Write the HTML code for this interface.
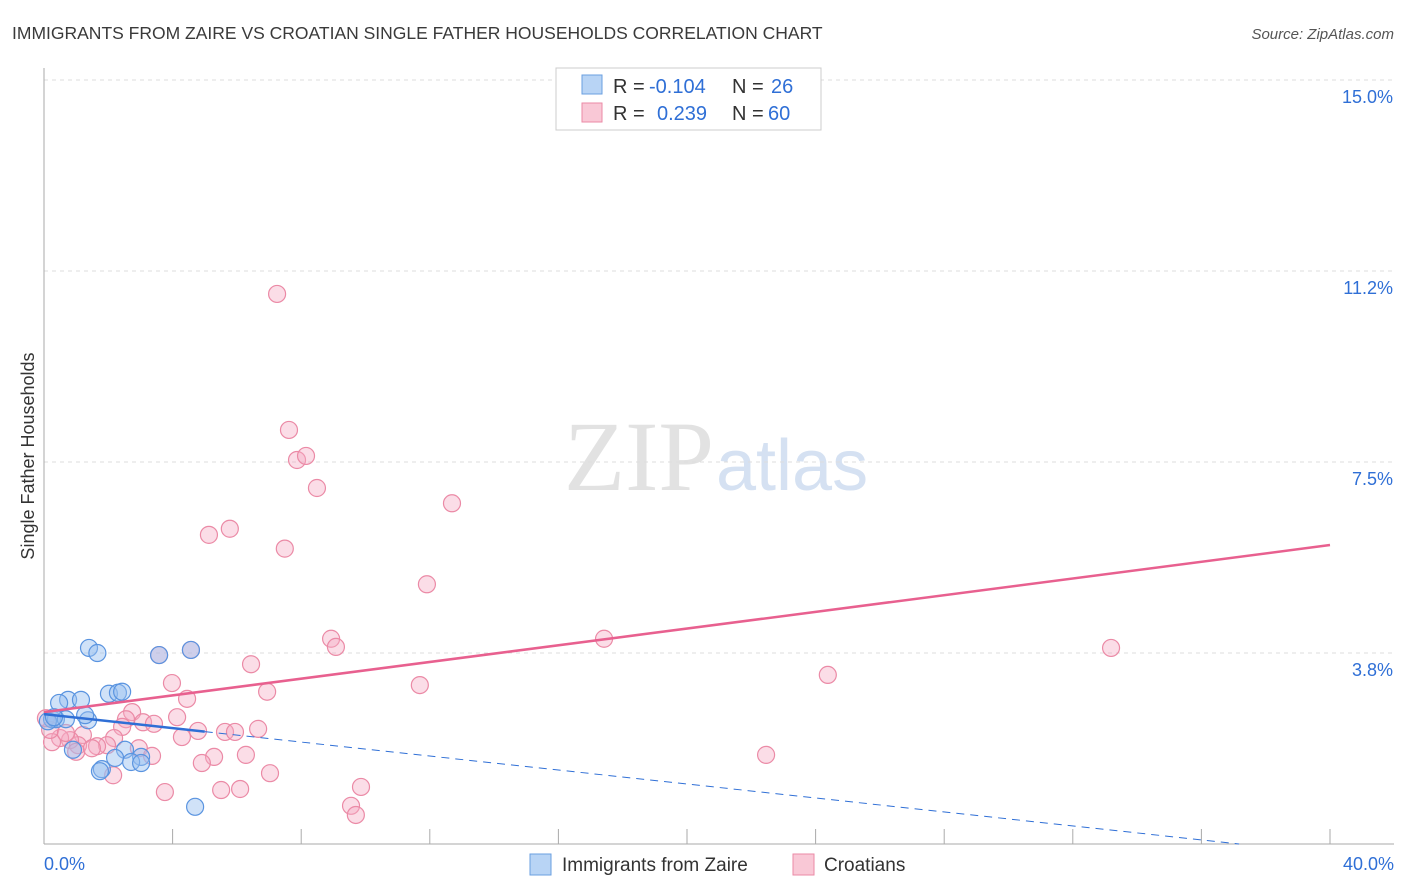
<!DOCTYPE html>
<html><head><meta charset="utf-8"><style>
body{margin:0;background:#fff;font-family:"Liberation Sans",sans-serif;}
svg{display:block}
</style></head><body>
<svg id="chart" width="1406" height="892" viewBox="0 0 1406 892">
<text x="12" y="39" font-size="17.5" fill="#3a3a3a">IMMIGRANTS FROM ZAIRE VS CROATIAN SINGLE FATHER HOUSEHOLDS CORRELATION CHART</text>
<text x="1394" y="39" font-size="15" fill="#555" font-style="italic" text-anchor="end">Source: ZipAtlas.com</text>
<text x="714" y="490" font-size="100" fill="#e2e2e2" font-family="Liberation Serif,serif" text-anchor="end">ZIP</text>
<text x="716" y="490" font-size="72" fill="#d5e1f2">atlas</text>
<text transform="translate(34,456) rotate(-90)" font-size="18" fill="#333" text-anchor="middle">Single Father Households</text>
<g id="grid"></g><g id="axes"></g><g id="marks"></g>
<g>
<rect x="556" y="68" width="265" height="62" fill="#fff" stroke="#ccc"/>
<rect x="582" y="75" width="20" height="19" fill="#b8d4f5" stroke="#6a9fe0"/>
<rect x="582" y="103" width="20" height="19" fill="#f9c8d6" stroke="#eb8aa6"/>
<text y="93" font-size="20" fill="#333"><tspan x="613">R =</tspan><tspan x="649" fill="#2f6fd6">-0.104</tspan><tspan x="732">N =</tspan><tspan x="771" fill="#2f6fd6">26</tspan></text>
<text y="120" font-size="20" fill="#333"><tspan x="613">R =</tspan><tspan x="657" fill="#2f6fd6">0.239</tspan><tspan x="732">N =</tspan><tspan x="768" fill="#2f6fd6">60</tspan></text>
</g>
<g>
<rect x="530" y="854" width="21" height="21" fill="#b8d4f5" stroke="#6a9fe0"/>
<text x="562" y="871" font-size="19" fill="#333">Immigrants from Zaire</text>
<rect x="793" y="854" width="21" height="21" fill="#f9c8d6" stroke="#eb8aa6"/>
<text x="824" y="871" font-size="19" fill="#333">Croatians</text>
</g>
</svg>
<script>
const yTicks=[3.75,7.5,11.25,15];
const yTickLabels=["3.8%","7.5%","11.2%","15.0%"];
const xTickLabels=["0.0%","40.0%"];
const blueX=[1.4,1.66,3.58,4.57,2.02,2.3,2.43,0.75,1.15,0.47,0.25,0.37,0.68,1.37,1.28,2.52,2.21,3.02,2.71,1.8,1.74,3.02,4.7,0.9,0.12,0.31];
const blueY=[3.85,3.75,3.71,3.81,2.95,2.97,2.99,2.83,2.83,2.77,2.45,2.45,2.45,2.43,2.53,1.85,1.69,1.71,1.61,1.47,1.43,1.59,0.73,1.85,2.41,2.49];
const pinkX=[7.25,7.62,7.87,8.15,8.49,12.69,5.13,5.78,7.49,11.91,8.93,9.08,17.42,33.19,4.57,6.44,24.38,3.98,4.45,11.69,6.94,4.14,2.74,3.08,3.42,2.55,2.43,4.79,5.63,5.94,6.66,4.29,2.18,1.21,1.06,0.81,0.5,0.25,0.19,0.06,2.95,3.36,6.28,5.29,4.91,1.96,1.65,2.15,7.03,22.46,3.76,5.51,6.1,9.86,9.55,9.7,1.0,1.49,3.58,0.68];
const pinkY=[10.8,8.13,7.54,7.62,6.99,6.69,6.07,6.19,5.8,5.1,4.03,3.87,4.03,3.85,3.81,3.53,3.32,3.16,2.85,3.12,2.99,2.49,2.59,2.39,2.36,2.45,2.3,2.22,2.2,2.2,2.26,2.1,2.08,2.14,1.94,2.04,2.08,2.0,2.24,2.47,1.88,1.73,1.75,1.71,1.59,1.94,1.92,1.35,1.39,1.75,1.02,1.06,1.08,1.12,0.75,0.57,1.81,1.88,3.71,2.18];
const pinkFit=[2.59,5.87];
const blueFit=[2.55,-0.0686];
const NS="http://www.w3.org/2000/svg";
const X=v=>44+v*32.15, Y=v=>844-v*50.93;
function mk(t,a,p){const e=document.createElementNS(NS,t);for(const k in a)e.setAttribute(k,a[k]);p.appendChild(e);return e;}
const grid=document.getElementById('grid'),axes=document.getElementById('axes'),marks=document.getElementById('marks');
yTicks.forEach((t,i)=>{
 const l=mk('line',{x1:44,x2:1394,y1:Y(t),y2:Y(t),stroke:'#ddd','stroke-dasharray':'4,4'},grid);
 
 
 const tx=mk('text',{x:1393,y:Y(t)+23,'font-size':18,fill:'#2f6fd6','text-anchor':'end'},axes);
 tx.textContent=yTickLabels[i];
 
 
});
const ax=mk('line',{x1:44,x2:1394,y1:844,y2:844,stroke:'#aaa'},axes);


const ay=mk('line',{x1:44,x2:44,y1:68,y2:844,stroke:'#aaa'},axes);


for(let v=4;v<=40;v+=4){const t=mk('line',{x1:X(v),x2:X(v),y1:829,y2:844,stroke:'#aaa'},axes);
 
 }
[[0,44,'start'],[40,1394,'end']].forEach((d,i)=>{const t=mk('text',{x:d[1],y:870,'font-size':18,fill:'#2f6fd6','text-anchor':d[2]},axes);t.textContent=xTickLabels[i];
 
 });
pinkX.forEach((x,i)=>{const c=mk('circle',{cx:X(x),cy:Y(pinkY[i]),r:8.5,fill:'rgba(246,170,195,0.4)',stroke:'#eb8aa6','stroke-width':1.2},marks);
 
 });
blueX.forEach((x,i)=>{const c=mk('circle',{cx:X(x),cy:Y(blueY[i]),r:8.5,fill:'rgba(150,190,240,0.45)',stroke:'#5a94e0','stroke-width':1.2},marks);
 
 });
const pl=mk('line',{x1:X(0),y1:Y(pinkFit[0]),x2:X(40),y2:Y(pinkFit[1]),stroke:'#e8608f','stroke-width':2.5},marks);


const bs=mk('line',{x1:X(0),y1:Y(blueFit[0]),x2:X(5),y2:Y(blueFit[0]+blueFit[1]*5),stroke:'#2f6fd6','stroke-width':2.5},marks);


let xe=Math.min(40,-blueFit[0]/blueFit[1]);
const bd=mk('line',{x1:X(5),y1:Y(blueFit[0]+blueFit[1]*5),x2:X(xe),y2:Y(blueFit[0]+blueFit[1]*xe),stroke:'#2f6fd6','stroke-width':1,'stroke-dasharray':'8,6'},marks);


</script>
</body></html>
